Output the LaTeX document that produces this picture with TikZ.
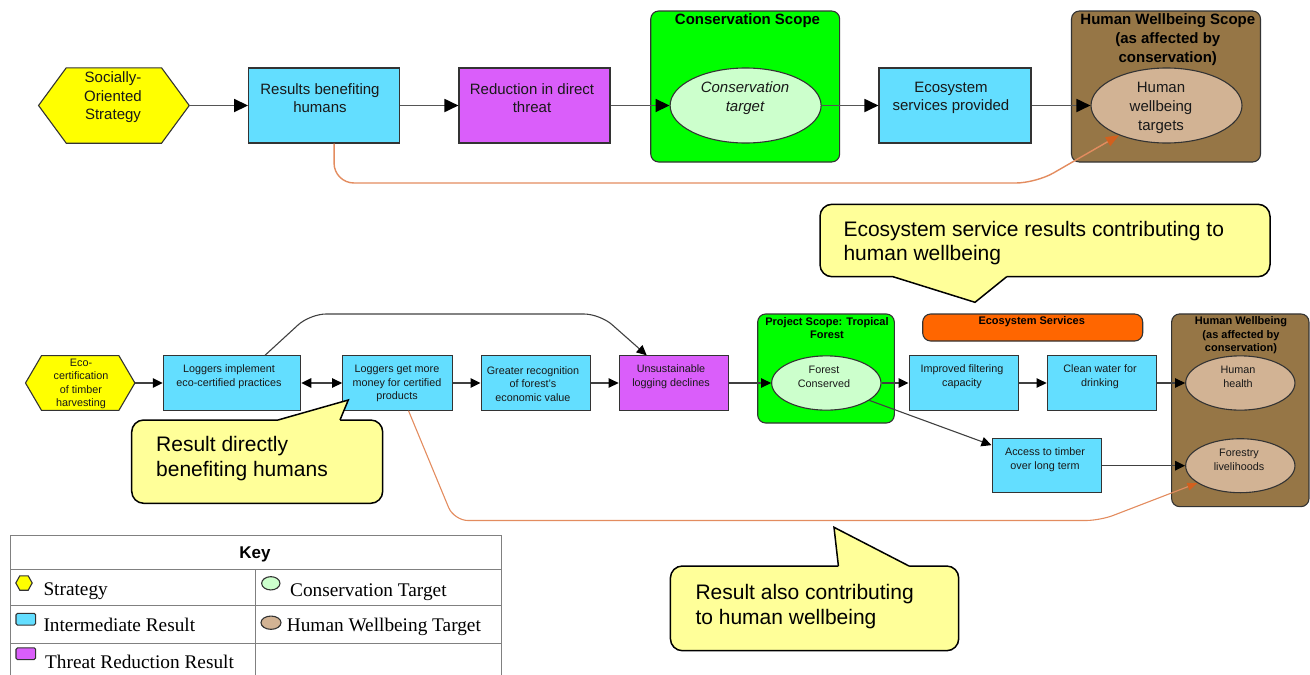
\documentclass[tikz,border=0pt]{standalone}
\usepackage{fontspec}
\setmainfont{Liberation Sans}
\newfontfamily\keyserif{Liberation Serif}
\usetikzlibrary{arrows.meta,shapes.geometric}

\definecolor{stratY}{HTML}{FFFF00}
\definecolor{resBlue}{HTML}{63DEFF}
\definecolor{threatMag}{HTML}{DA5EFA}
\definecolor{scopeGreen}{HTML}{00FF00}
\definecolor{targetGreen}{HTML}{CCFFCC}
\definecolor{scopeBrown}{HTML}{967646}
\definecolor{hwTan}{HTML}{D2B394}
\definecolor{svcOrange}{HTML}{FF6600}
\definecolor{noteYellow}{HTML}{FFFF99}
\definecolor{linkOrange}{HTML}{E38C5F}
\definecolor{tipOrange}{HTML}{D2601E}
\definecolor{keyGray}{HTML}{808080}
\definecolor{edgeGray}{HTML}{333333}
\definecolor{linkGray}{HTML}{555555}

% hexagon drawn over an invisible rectangular holder node
\newcommand{\hexdraw}[3]{%
  \filldraw[fill=#3, draw=edgeGray, line width=1.1pt, line join=miter]
    (#1.west) -- ([xshift=#2]#1.north west) -- ([xshift=-#2]#1.north east)
    -- (#1.east) -- ([xshift=-#2]#1.south east) -- ([xshift=#2]#1.south west) -- cycle;}

\begin{document}
\begin{tikzpicture}[x=1pt,y=-1pt,
  hexhold/.style={rectangle, inner sep=0pt, draw=none},
  shp/.style={inner sep=0pt, draw=edgeGray, line width=1.1pt},
  boxA/.style={shp, rectangle, minimum width=151pt, minimum height=75pt},
  ellA/.style={shp, ellipse, minimum width=151pt, minimum height=75pt},
  boxB/.style={shp, rectangle, minimum width=109.7pt, minimum height=54.3pt},
  ellB/.style={shp, ellipse, minimum width=109.3pt, minimum height=54.3pt},
  scope/.style={shp, rectangle, rounded corners=8pt},
  tA/.style={inner sep=0pt, align=center, text=black!90, font=\fontsize{15}{18.7}\selectfont},
  ttlA/.style={inner sep=0pt, align=center, font=\fontsize{15}{19.2}\selectfont\bfseries},
  tB/.style={inner sep=0pt, align=center, text=black!90, font=\fontsize{10.8}{13.6}\selectfont},
  ttlB/.style={inner sep=0pt, align=center, font=\fontsize{11}{13.5}\selectfont\bfseries},
  linkA/.style={draw=linkGray, line width=1.8pt, -{Triangle[length=14pt,width=13pt,color=black]}},
  linkB/.style={draw=black!75, line width=1.1pt, -{Triangle[length=10pt,width=9.5pt,color=black]}},
  linkBB/.style={draw=black!75, line width=1.1pt, {Triangle[length=10pt,width=9.5pt,color=black]}-{Triangle[length=10pt,width=9.5pt,color=black]}},
  linkO/.style={draw=linkOrange, line width=1.4pt, rounded corners=20pt, -{Triangle[length=13pt,width=10pt,color=tipOrange]}},
  linkO2/.style={draw=linkOrange, line width=1.1pt, rounded corners=14pt, -{Triangle[length=10pt,width=7.5pt,color=tipOrange]}},
  note/.style={rectangle, rounded corners=12pt, fill=noteYellow, draw=black, line width=1.5pt, inner sep=0pt},
  notebd/.style={draw=black, line width=1.5pt, line join=miter},
  tN/.style={inner sep=0pt, align=left, anchor=west, font=\fontsize{21}{24.3}\selectfont},
  keyline/.style={draw=keyGray, line width=1pt},
  keyrect/.style={shp, rectangle, rounded corners=1.5pt, minimum width=19.7pt, minimum height=11.7pt},
  keyell/.style={shp, ellipse},
  kT/.style={inner sep=0pt, anchor=base west, font=\keyserif\fontsize{19.3}{23}\selectfont},
  kH/.style={inner sep=0pt, anchor=base, font=\fontsize{17}{20}\selectfont\bfseries}
]
\useasboundingbox (0,0) rectangle (1310,675);

% ---------- upper chain: generic results chain ----------
\node[hexhold, minimum width=150.3pt, minimum height=75pt] (s1) at (113.9,105.5) {};
\hexdraw{s1}{27.7pt}{stratY}
\node[tA] (s1t) at (113,97.3) {Socially-\\Oriented\\Strategy};

\node[boxA, fill=resBlue] (r1) at (324.1,105.5) {};
\node[tA] (r1t) at (320,98) {Results benefiting\\humans};

\node[boxA, fill=threatMag] (r2) at (534.5,105.5) {};
\node[tA] (r2t) at (532,98) {Reduction in direct\\threat};

\node[scope, fill=scopeGreen, minimum width=188.9pt, minimum height=151pt] (sc1) at (745.2,86.5) {};
\node[ttlA] (sc1t) at (747.5,20.7) {Conservation Scope};
\node[ellA, fill=targetGreen] (ct) at (745.6,105.5) {};
\node[tA, font=\fontsize{15}{18.7}\selectfont\itshape] (ctt) at (745,98.3) {Conservation\\target};

\node[boxA, fill=resBlue, minimum width=152pt] (r3) at (955,105.5) {};
\node[tA] (r3t) at (951,98) {Ecosystem\\services provided};

\node[scope, fill=scopeBrown, minimum width=189pt, minimum height=151pt] (sc2) at (1166,86.5) {};
\node[ttlA] (sc2t) at (1167.8,39.8) {Human Wellbeing Scope\\(as affected by\\conservation)};
\node[ellA, fill=hwTan] (hw) at (1166.5,105.5) {};
\node[tA] (hwt) at (1161,108) {Human\\wellbeing\\targets};

\draw[linkA] (s1) -- (r1);
\draw[linkA] (r1) -- (r2);
\draw[linkA] (r2) -- (ct);
\draw[linkA] (ct) -- (r3);
\draw[linkA] (r3) -- (hw);
\draw[linkO] ([xshift=10pt]r1.south) -- (334,183) -- (1036,183) -- (hw.-148);

% ---------- lower chain: eco-certification example ----------
\node[hexhold, minimum width=109pt, minimum height=54.3pt] (s2) at (80.2,383) {};
\hexdraw{s2}{16pt}{stratY}
\node[tB] (s2t) at (81,383.8) {Eco-\\certification\\of timber\\harvesting};

\node[boxB, fill=resBlue, minimum width=137.4pt] (m1) at (232,383) {};
\node[tB] (m1t) at (229,376.7) {Loggers implement\\eco-certified practices};

\node[boxB, fill=resBlue] (m2) at (397.5,383) {};
\node[tB] (m2t) at (397,383.7) {Loggers get more\\money for certified\\products};

\node[boxB, fill=resBlue] (m3) at (535.9,383) {};
\node[tB] (m3t) at (533,383.8) {Greater recognition\\of forest's\\economic value};

\node[boxB, fill=threatMag] (m4) at (674,383) {};
\node[tB] (m4t) at (671,376.8) {Unsustainable\\logging declines};

\node[scope, fill=scopeGreen, minimum width=136.6pt, minimum height=109pt] (sc3) at (826,368.5) {};
\node[ttlB] (sc3t) at (827,328.3) {Project Scope: Tropical\\Forest};
\node[ellB, fill=targetGreen] (fc) at (826.3,383) {};
\node[tB] (fct) at (824,376.8) {Forest\\Conserved};

\node[scope, fill=svcOrange, minimum width=220pt, minimum height=27pt] (sc5) at (1032.7,327.5) {};
\node[ttlB] (sc5t) at (1031.7,321.7) {Ecosystem Services};

\node[boxB, fill=resBlue] (m5) at (963.9,383) {};
\node[tB] (m5t) at (962,376.8) {Improved filtering\\capacity};

\node[boxB, fill=resBlue] (m6) at (1102,383) {};
\node[tB] (m6t) at (1100,376.8) {Clean water for\\drinking};

\node[scope, fill=scopeBrown, minimum width=137.3pt, minimum height=192.7pt] (sc4) at (1240.3,410.3) {};
\node[ttlB] (sc4t) at (1241,335.2) {Human Wellbeing\\(as affected by\\conservation)};
\node[ellB, fill=hwTan] (hh) at (1240.3,383) {};
\node[tB] (hht) at (1238,376.8) {Human\\health};

\node[boxB, fill=resBlue, minimum height=54pt] (m7) at (1046.9,465.7) {};
\node[tB] (m7t) at (1045,460) {Access to timber\\over long term};

\node[ellB, fill=hwTan, minimum height=54pt] (fl) at (1240.3,465.7) {};
\node[tB] (flt) at (1239,460) {Forestry\\livelihoods};

\draw[linkB] (s2) -- (m1);
\draw[linkBB] (m1) -- (m2);
\draw[linkB] (m2) -- (m3);
\draw[linkB] (m3) -- (m4);
\draw[linkB] (m4) -- (fc);
\draw[linkB] (fc) -- (m5);
\draw[linkB] (m5) -- (m6);
\draw[linkB] (m6) -- (hh);
\draw[linkB] (fc.-22) -- ([yshift=-7pt]m7.north west);
\draw[linkB] (m7) -- (fl);
\draw[linkB, rounded corners=16pt] ([xshift=33pt]m1.north) -- (310,314) -- (600,314) -- ([xshift=-27.3pt]m4.north);
\draw[linkO2] ([xshift=11pt]m2.south) -- (454,520.5) -- (1100,520.5) -- (fl.-158);

% ---------- speech-bubble notes ----------
\node[note, minimum width=251pt, minimum height=83.3pt] (c1) at (257.2,461.65) {};
\coordinate (c1tip) at (348.3,400);
\fill[noteYellow] (278,421.6) -- (278,420) -- (c1tip) -- (340,420) -- (340,421.6) -- cycle;
\draw[notebd] (278,420) -- (c1tip) -- (340,420);
\node[tN] (c1t) at (156,458.7) {Result directly\\benefiting humans};

\node[note, minimum width=288.3pt, minimum height=84.7pt] (c2) at (814.55,608.35) {};
\coordinate (c2tip) at (834,527.3);
\fill[noteYellow] (838.4,567.6) -- (838.4,566) -- (c2tip) -- (909,566) -- (909,567.6) -- cycle;
\draw[notebd] (838.4,566) -- (c2tip) -- (909,566);
\node[tN] (c2t) at (695.3,606.5) {Result also contributing\\to human wellbeing};

\node[note, minimum width=450pt, minimum height=72.4pt] (c3) at (1045,240.5) {};
\coordinate (c3tip) at (975,302.3);
\fill[noteYellow] (893,275.1) -- (893,276.7) -- (c3tip) -- (1006.7,276.7) -- (1006.7,275.1) -- cycle;
\draw[notebd] (893,276.7) -- (c3tip) -- (1006.7,276.7);
\node[tN] (c3t) at (843.3,242.8) {Ecosystem service results contributing to\\human wellbeing};

% ---------- key ----------
\draw[keyline] (10,676) -- (10,535) -- (501.7,535) -- (501.7,676);
\draw[keyline] (10,569.3) -- (501.7,569.3);
\draw[keyline] (10,605) -- (501.7,605);
\draw[keyline] (10,643.3) -- (501.7,643.3);
\draw[keyline] (255,569.3) -- (255,676);
\node[kH] (kh) at (255,558.3) {Key};

\node[hexhold, minimum width=16pt, minimum height=14pt] (k1) at (24,583) {};
\hexdraw{k1}{4pt}{stratY}
\node[kT] (k1t) at (43.3,595.7) {Strategy};

\node[keyrect, fill=resBlue] (k2) at (25.8,619.2) {};
\node[kT] (k2t) at (43.3,631.7) {Intermediate Result};

\node[keyrect, fill=threatMag] (k3) at (25.8,653.7) {};
\node[kT] (k3t) at (45,668.3) {Threat Reduction Result};

\node[keyell, fill=targetGreen, minimum width=18.3pt, minimum height=13.3pt] (k4) at (270.8,583.3) {};
\node[kT] (k4t) at (290,596.7) {Conservation Target};

\node[keyell, fill=hwTan, minimum width=20pt, minimum height=13.3pt] (k5) at (271,622.7) {};
\node[kT] (k5t) at (286.7,631.7) {Human Wellbeing Target};
\end{tikzpicture}
\end{document}
